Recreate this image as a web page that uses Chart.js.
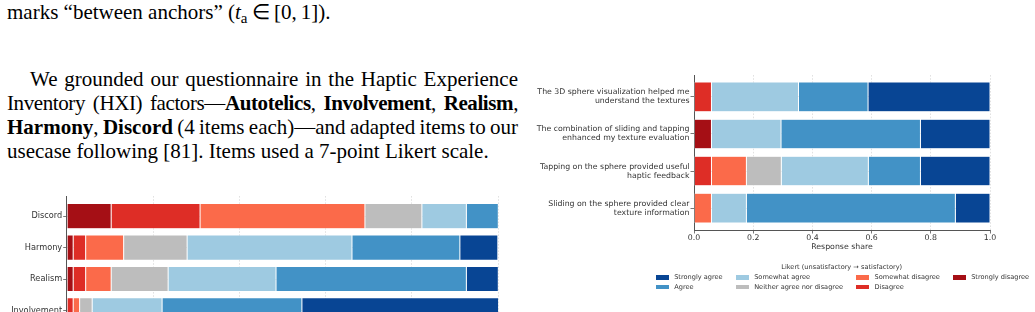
<!DOCTYPE html>
<html><head><meta charset="utf-8">
<script src="https://cdn.jsdelivr.net/npm/chart.js@4.4.1/dist/chart.umd.min.js"></script>
<style>
html,body{margin:0;padding:0;background:#fff;width:1035px;height:312px;overflow:hidden;position:relative;}
.txt{position:absolute;font-family:"Liberation Serif","Times New Roman",serif;font-size:21px;line-height:23.7px;color:#000;white-space:nowrap;}
.jl{text-align:justify;text-align-last:justify;white-space:normal;word-spacing:-4px;}
.txt sub{font-size:15px;vertical-align:-4px;line-height:0;}
canvas{position:absolute;}
#legend{position:absolute;left:0;top:0;width:1035px;height:312px;pointer-events:none;font-family:"DejaVu Sans",sans-serif;font-size:6.6px;color:#333;}
#legend .t{position:absolute;white-space:nowrap;line-height:8px;}
#legend .sw{position:absolute;width:13.2px;height:4.6px;}
</style>
</head><body>
<div class="txt" style="left:7px;top:1.1px;">marks “between anchors” (<i>t</i><sub>a</sub>&thinsp;∈&thinsp;[0,&thinsp;1]).</div>
<div class="txt jl" style="left:30px;top:68.4px;width:488px;">We grounded our questionnaire in the Haptic Experience</div>
<div class="txt jl" style="left:7px;top:92.1px;width:511px;letter-spacing:-0.4px;">Inventory (HXI) factors—<b>Autotelics</b>, <b>Involvement</b>, <b>Realism</b>,</div>
<div class="txt jl" style="left:7px;top:115.8px;width:511px;"><b>Harmony</b>, <b>Discord</b> (4 items each)—and adapted items to our</div>
<div class="txt" style="left:7px;top:139.5px;">usecase following [81]. Items used a 7-point Likert scale.</div>

<canvas id="c1" width="520" height="200" style="left:0;top:190px;"></canvas>
<canvas id="c2" width="480" height="182" style="left:530px;top:70px;"></canvas>
<div id="legend"></div>

<script>
// Likert levels, left (unsatisfactory) to right (satisfactory)
const levels = ["Strongly disagree","Disagree","Somewhat disagree","Neither agree nor disagree","Somewhat agree","Agree","Strongly agree"];
const colors = ["#a50f15","#de2d26","#fb6a4a","#bdbdbd","#9ecae1","#4292c6","#084594"];

// Left chart: HXI factors, top to bottom (Autotelics row lies below the visible area)
const factors = ["Discord","Harmony","Realism","Involvement","Autotelics"];
const hxiStronglyDisagree = [0.103, 0.015, 0.015, 0.000, null];
const hxiDisagree         = [0.206, 0.029, 0.029, 0.015, null];
const hxiSomewhatDisagree = [0.382, 0.088, 0.059, 0.015, null];
const hxiNeutral          = [0.132, 0.147, 0.132, 0.029, null];
const hxiSomewhatAgree    = [0.103, 0.382, 0.250, 0.162, null];
const hxiAgree            = [0.074, 0.250, 0.441, 0.324, null];
const hxiStronglyAgree    = [0.000, 0.088, 0.074, 0.456, null];

// Right chart: custom items, top to bottom
const items = [
  ["The 3D sphere visualization helped me","understand the textures"],
  ["The combination of sliding and tapping","enhanced my texture evaluation"],
  ["Tapping on the sphere provided useful","haptic feedback"],
  ["Sliding on the sphere provided clear","texture information"]
];
const itemStronglyDisagree = [0.000, 0.059, 0.000, 0.000];
const itemDisagree         = [0.059, 0.000, 0.059, 0.000];
const itemSomewhatDisagree = [0.000, 0.000, 0.118, 0.059];
const itemNeutral          = [0.000, 0.000, 0.118, 0.000];
const itemSomewhatAgree    = [0.294, 0.235, 0.294, 0.118];
const itemAgree            = [0.235, 0.471, 0.176, 0.706];
const itemStronglyAgree    = [0.412, 0.235, 0.235, 0.117];

const xTicks = [0, 0.2, 0.4, 0.6, 0.8, 1.0];
const xTitle = "Response share";
const legendTitle = "Likert (unsatisfactory → satisfactory)";

const FONT = "'DejaVu Sans', sans-serif";
const gridColor = "rgba(170,170,170,0.45)";
const axisColor = "#555";

function makeChart(id, cats, series, cfg) {
  const n = cats.length;
  const m = 0.05 * (n - 1 + 0.8);
  const datasets = levels.map((name, k) => ({
    label: name,
    backgroundColor: colors[k],
    borderColor: "rgba(255,255,255,0.8)",
    borderWidth: 0.5,
    borderSkipped: false,
    categoryPercentage: 0.8,
    barPercentage: 1.0,
    data: series[k].map((v, i) => ({x: v, y: n - 1 - i}))
  }));
  const gridOpts = {offset: false, color: gridColor, lineWidth: 0.8, tickColor: axisColor, tickLength: 3.5, tickWidth: 0.8, tickBorderDash: []};
  const borderOpts = {display: true, color: axisColor, width: 1, dash: [1.6, 1.6]};
  return new Chart(document.getElementById(id), {
    type: "bar",
    data: {datasets},
    options: {
      indexAxis: "y",
      responsive: false,
      animation: false,
      events: [],
      layout: {padding: cfg.padding},
      plugins: {legend: {display: false}, tooltip: {enabled: false}},
      scales: {
        x: {
          type: "linear", min: 0, max: 1, stacked: true, z: 1, offset: false,
          afterBuildTicks: s => { s.ticks = xTicks.map(v => ({value: v})); },
          ticks: {callback: v => Number(v).toFixed(1), font: {family: FONT, size: cfg.fs}, color: "#333", padding: 0, maxRotation: 0},
          grid: gridOpts, border: borderOpts,
          title: {display: true, text: xTitle, font: {family: FONT, size: cfg.fs}, color: "#333", padding: {top: 0, bottom: 0}},
          afterFit: s => { s.height = cfg.xH; s.paddingLeft = 0; s.paddingRight = 0; }
        },
        y: {
          type: "linear", min: -0.4 - m, max: n - 1 + 0.4 + m, stacked: true, z: 1, offset: false,
          afterBuildTicks: s => { s.ticks = cats.map((_, i) => ({value: i})); },
          ticks: {callback: v => cats[n - 1 - v], font: {family: FONT, size: cfg.fs, lineHeight: 1.15}, color: "#333", padding: 1, autoSkip: false},
          grid: gridOpts, border: borderOpts,
          afterFit: s => { s.width = cfg.yW; s.paddingTop = 0; s.paddingBottom = 0; }
        }
      }
    }
  });
}

makeChart("c1", factors,
  [hxiStronglyDisagree, hxiDisagree, hxiSomewhatDisagree, hxiNeutral, hxiSomewhatAgree, hxiAgree, hxiStronglyAgree],
  {padding: {top: 6, right: 21.7, bottom: 3, left: 0}, yW: 66.7, xH: 25, fs: 8.2});

makeChart("c2", items,
  [itemStronglyDisagree, itemDisagree, itemSomewhatDisagree, itemNeutral, itemSomewhatAgree, itemAgree, itemStronglyAgree],
  {padding: {top: 5, right: 20, bottom: 0, left: 0}, yW: 164, xH: 22, fs: 7.8});

// Legend (matplotlib-style, 4 columns filled column by column)
(function () {
  const lg = document.getElementById("legend");
  const t = document.createElement("div");
  t.className = "t"; t.textContent = legendTitle;
  t.style.left = "841.7px"; t.style.top = (267.3 - 4) + "px"; t.style.transform = "translateX(-50%)";
  lg.appendChild(t);
  const order = [6, 5, 4, 3, 2, 1, 0];
  const colX = [655.7, 735.7, 856, 952.7];
  const rowY = [277.3, 287];
  order.forEach((k, j) => {
    const c = Math.floor(j / 2), r = j % 2;
    const sw = document.createElement("div");
    sw.className = "sw"; sw.style.background = colors[k];
    sw.style.left = colX[c] + "px"; sw.style.top = (rowY[r] - 2.3) + "px";
    lg.appendChild(sw);
    const tx = document.createElement("div");
    tx.className = "t"; tx.textContent = levels[k];
    tx.style.left = (colX[c] + 18.5) + "px"; tx.style.top = (rowY[r] - 4) + "px";
    lg.appendChild(tx);
  });
})();
</script>
</body></html>
